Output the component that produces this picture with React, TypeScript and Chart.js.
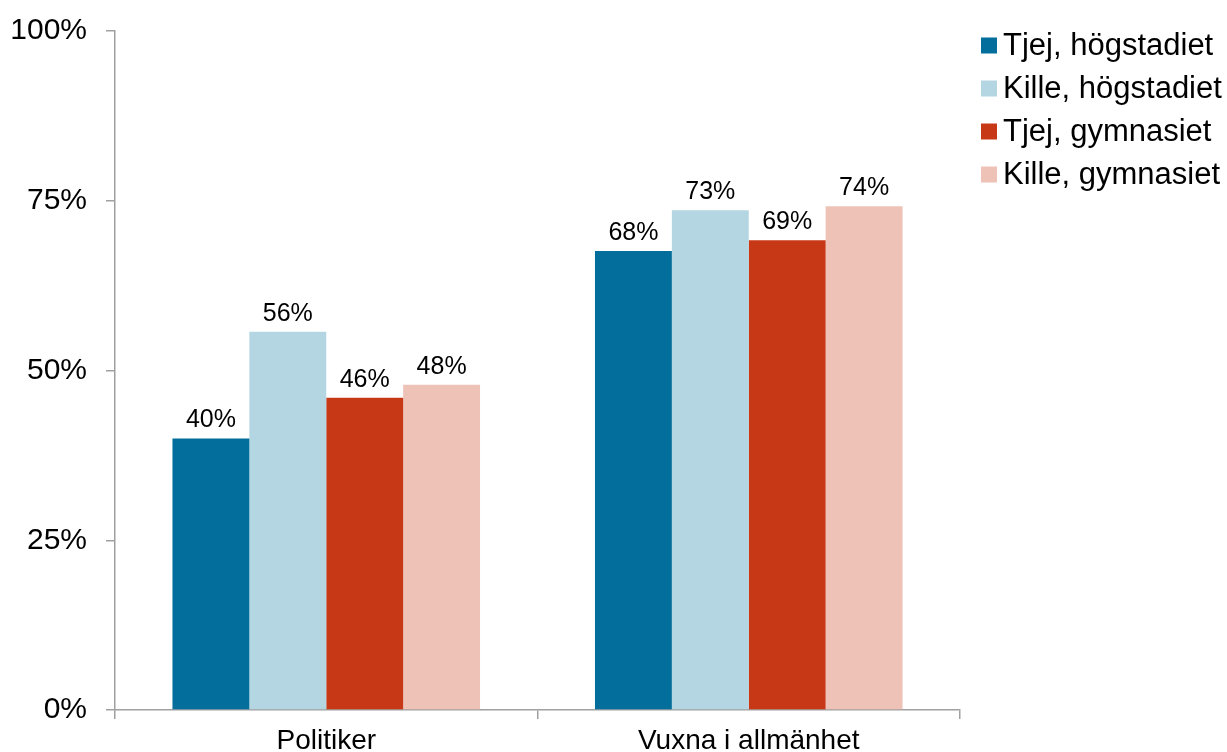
import React, { useEffect, useRef } from "react";
import { Chart, registerables } from "chart.js";

Chart.register(...registerables);

const categories = ["Politiker", "Vuxna i allmänhet"];
const seriesNames = ["Tjej, högstadiet", "Kille, högstadiet", "Tjej, gymnasiet", "Kille, gymnasiet"];
const tjejHog = [40.0, 67.6];
const killeHog = [55.7, 73.6];
const tjejGym = [46.0, 69.2];
const killeGym = [47.9, 74.2];
const seriesLabels = [
  ["40%", "68%"],
  ["56%", "73%"],
  ["46%", "69%"],
  ["48%", "74%"],
];
const colors = ["#036E9B", "#B3D6E2", "#C73816", "#EEC2B7"];
const yTicks = [0, 25, 50, 75, 100];

const FONT = "'Liberation Sans', Arial, Helvetica, sans-serif";

export default function App() {
  const ref = useRef<HTMLCanvasElement | null>(null);

  useEffect(() => {
    document.body.style.margin = "0";
    const canvas = ref.current;
    if (!canvas) return;
    const values = [tjejHog, killeHog, tjejGym, killeGym];

    const labelPlugin = {
      id: "valueLabels",
      afterDatasetsDraw(chart: any) {
        const ctx = chart.ctx;
        ctx.save();
        ctx.font = `25px ${FONT}`;
        ctx.fillStyle = "#000";
        ctx.textAlign = "center";
        ctx.textBaseline = "alphabetic";
        chart.data.datasets.forEach((ds: any, i: number) => {
          const meta = chart.getDatasetMeta(i);
          meta.data.forEach((bar: any, j: number) => {
            ctx.fillText(seriesLabels[i][j], bar.x, bar.y - 11);
          });
        });
        ctx.restore();
      },
    };

    const legendPlugin = {
      id: "customLegend",
      afterDraw(chart: any) {
        const ctx = chart.ctx;
        const area = chart.chartArea;
        ctx.save();
        ctx.font = `31px ${FONT}`;
        ctx.textAlign = "left";
        ctx.textBaseline = "middle";
        seriesNames.forEach((name, i) => {
          const cy = area.top + 14.5 + i * 43;
          ctx.fillStyle = colors[i];
          ctx.fillRect(area.right + 21, cy - 8, 16, 16);
          ctx.fillStyle = "#000";
          ctx.fillText(name, area.right + 43, cy + 1);
        });
        ctx.restore();
      },
    };

    const chart = new Chart(canvas, {
      type: "bar",
      data: {
        labels: categories,
        datasets: seriesNames.map((name, i) => ({
          label: name,
          data: values[i],
          backgroundColor: colors[i],
          borderWidth: 0,
          categoryPercentage: 0.728,
          barPercentage: 1.0,
        })),
      },
      options: {
        responsive: false,
        animation: false,
        maintainAspectRatio: false,
        layout: { padding: { top: 31, right: 267, left: 0, bottom: 0 } },
        plugins: {
          legend: { display: false },
          tooltip: { enabled: false },
        },
        scales: {
          x: {
            grid: {
              display: true,
              drawOnChartArea: false,
              drawTicks: true,
              tickLength: 9,
              color: "#A0A0A0",
              lineWidth: 1.5,
              offset: true,
            },
            border: { display: true, color: "#A0A0A0", width: 1.5 },
            ticks: {
              color: "#000",
              font: { family: FONT, size: 28 },
              padding: 5,
              maxRotation: 0,
            },
            afterFit(scale: any) {
              scale.height = 42;
              scale.paddingLeft = 0;
              scale.paddingRight = 0;
            },
          },
          y: {
            min: 0,
            max: 100,
            afterBuildTicks(scale: any) {
              scale.ticks = yTicks.map((v) => ({ value: v }));
            },
            grid: {
              display: true,
              drawOnChartArea: false,
              drawTicks: true,
              tickLength: 9,
              color: "#A0A0A0",
              lineWidth: 1.5,
            },
            border: { display: true, color: "#A0A0A0", width: 1.5 },
            ticks: {
              color: "#000",
              font: { family: FONT, size: 30 },
              padding: 19,
              callback: (v: any) => `${v}%`,
            },
            afterFit(scale: any) {
              scale.width = 115;
              scale.paddingTop = 0;
              scale.paddingBottom = 0;
            },
          },
        },
      },
      plugins: [labelPlugin, legendPlugin],
    });

    return () => chart.destroy();
  }, []);

  return (
    <div style={{ width: 1227, height: 752, background: "#fff" }}>
      <canvas ref={ref} width={1227} height={752} style={{ display: "block" }} />
    </div>
  );
}
